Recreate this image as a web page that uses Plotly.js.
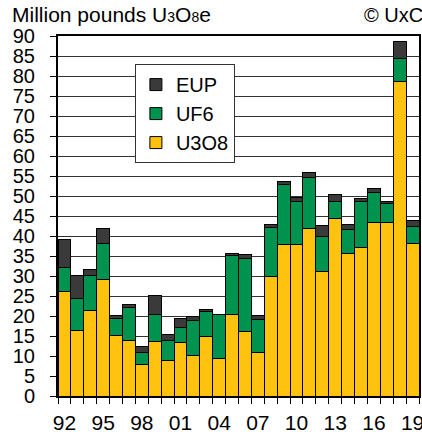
<!DOCTYPE html>
<html><head><meta charset="utf-8">
<script src="https://cdn.plot.ly/plotly-3.0.1.min.js"></script>
<style>html,body{margin:0;padding:0;background:#fff}</style>
</head><body><div id="chart" style="width:422px;height:434px"></div>
<script>
const years = [1992,1993,1994,1995,1996,1997,1998,1999,2000,2001,2002,2003,2004,2005,2006,2007,2008,2009,2010,2011,2012,2013,2014,2015,2016,2017,2018,2019];
const u3o8 = [26.2,16.3,21.4,29.1,15.2,13.8,8.0,13.6,8.8,13.3,10.2,15.0,9.4,20.3,16.2,10.8,29.9,37.9,37.9,41.8,31.25,44.5,35.75,37.25,43.35,43.35,78.6,38.25];
const uf6 = [6.0,8.2,8.7,9.0,4.3,8.4,3.0,6.9,5.0,3.9,8.6,6.2,10.9,14.9,18.1,8.4,12.2,14.9,10.8,12.8,8.65,4.1,5.9,11.35,7.65,4.9,5.9,4.15];
const eup = [6.9,5.6,1.5,3.8,0.6,0.6,1.4,4.6,1.5,2.3,1.2,0.5,0.1,0.4,1.0,0.9,0.9,0.9,1.0,1.2,2.7,1.8,1.2,0.7,0.9,0.5,4.1,1.5];
const tickYears = [1992,1995,1998,2001,2004,2007,2010,2013,2016,2019];
const tickLabels = ["92","95","98","01","04","07","10","13","16","19"];

const line = {color:'#000', width:1};
const traces = [
  {type:'bar', name:'U3O8', x:years, y:u3o8, marker:{color:'#FFC20E', line:line}, legendgroup:'a', legendrank:3},
  {type:'bar', name:'UF6', x:years, y:uf6, marker:{color:'#00924F', line:line}, legendgroup:'b', legendrank:2},
  {type:'bar', name:'EUP', x:years, y:eup, marker:{color:'#3A3A3A', line:line}, legendgroup:'c', legendrank:1}
];
const font = {family:'Liberation Sans, Arial, sans-serif', color:'#000'};
const layout = {
  width:422, height:434,
  margin:{l:58, r:3, t:36, b:38},
  barmode:'stack', bargap:0,
  paper_bgcolor:'#fff', plot_bgcolor:'#fff',
  font:font,
  showlegend:true,
  legend:{x:0.213, y:0.922, xanchor:'left', yanchor:'top', bgcolor:'#fff', bordercolor:'#333', borderwidth:1,
          font:{family:font.family, size:20, color:'#000'}, traceorder:'normal', tracegroupgap:1},
  title:{text:'Million pounds U<span style="font-size:14px">3</span>O<span style="font-size:14px">8</span>e',
         x:12/422, xanchor:'left', y:1-15/434, yanchor:'middle', font:{family:font.family, size:21, color:'#000'}},
  annotations:[{text:'© UxC', xref:'paper', yref:'paper', x:(362-58)/361, y:1+(36-15)/360, xanchor:'left', yanchor:'middle',
                showarrow:false, font:{family:font.family, size:20, color:'#000'}}],
  xaxis:{range:[1991.5,2019.5], tickvals:tickYears, ticktext:tickLabels, ticks:'', ticklabelstandoff:7,
         ticklabeloverflow:'allow',
         tickfont:{size:21}, showgrid:false, zeroline:false, showline:true, linecolor:'#000', linewidth:2, mirror:true,
         minor:{tick0:1991.5, dtick:1, ticks:'outside', ticklen:6, tickcolor:'#000', showgrid:false}},
  yaxis:{range:[0,90], dtick:5, ticks:'outside', ticklen:6, tickcolor:'#000', tickfont:{size:20}, ticklabelstandoff:11,
         showgrid:true, gridcolor:'#333', gridwidth:1, zeroline:false, showline:true, linecolor:'#000', linewidth:2, mirror:true}
};
Plotly.newPlot('chart', traces, layout, {displayModeBar:false, staticPlot:true});
</script></body></html>
